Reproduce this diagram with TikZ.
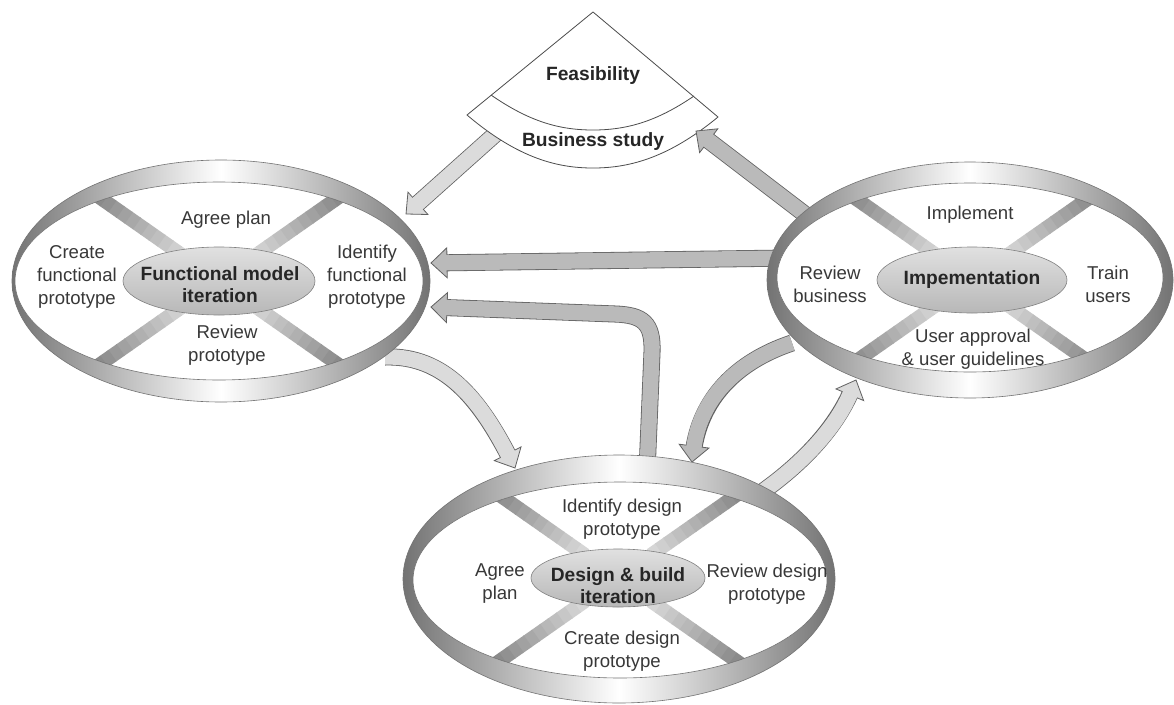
\documentclass[tikz,border=0pt]{standalone}
\usepackage{fontspec}
\setmainfont{Liberation Sans}
\usetikzlibrary{decorations.markings,calc}
\definecolor{edge}{gray}{0.38}
\definecolor{alight}{gray}{0.86}
\definecolor{amed}{gray}{0.73}
\definecolor{txt}{gray}{0.22}

\newcommand\blockarr[2]{%
  \draw[line width=17pt, draw=edge, shorten >=10pt] #2;
  \path[decoration={markings, mark=at position 1 with {\filldraw[fill=#1, draw=edge, line width=0.8pt, line join=miter] (0,0) -- (-16,15) -- (-16,-15) -- cycle;}}, postaction={decorate}] #2;
  \draw[line width=15.4pt, draw=#1, shorten >=14pt] #2;
}

\newcommand\dsdmring[9]{%
  \shade[left color=black!55, right color=black!55, middle color=white] #1 ellipse ({#2} and {#3});
  \fill[white] #4 ellipse ({#5} and {#6});
  \begin{scope}
    \clip #4 ellipse ({#5} and {#6});
    \foreach \a in {35,145,215,325}{
      \foreach \i in {0,...,13}{
        \pgfmathtruncatemacro\shadeval{16+3*\i}
        \draw[line width=14pt, draw=black!\shadeval] ($#7+(\a:{40+10*\i})$) -- ($#7+(\a:{51+10*\i})$);
      }}
  \end{scope}
  \draw[ringline] #1 ellipse ({#2} and {#3});
  \draw[ringline] #4 ellipse ({#5} and {#6});
  \shade[top color=black!12, bottom color=black!28, draw=black!50, line width=0.6pt] #7 ellipse ({#8} and {#9});
}

\tikzset{
  ringline/.style={draw=black!55, line width=0.6pt},
  lab/.style={font=\fontsize{18.6}{23}\selectfont, text=txt, align=center, inner sep=0pt},
  hublab/.style={font=\fontsize{19.2}{22}\selectfont\bfseries, text=black!85, align=center, inner sep=0pt},
}

\begin{document}
\begin{tikzpicture}[x=1pt,y=-1pt]
\useasboundingbox (0,0) rectangle (1174,704);
\fill[white] (0,0) rectangle (1174,704);

% arrow end points
\coordinate (a1s) at (500,130);  \coordinate (a1e) at (406,214);
\coordinate (a2s) at (815,222);  \coordinate (a2e) at (696,131);
\coordinate (a3s) at (790,258);  \coordinate (a3e) at (431,263);
\coordinate (a4s) at (647,472);  \coordinate (a4e) at (431,307);
\coordinate (a5s) at (385,357);  \coordinate (a5e) at (515,468);
\coordinate (a6s) at (792,343);  \coordinate (a6e) at (692,462);
\coordinate (a7s) at (762,492);  \coordinate (a7e) at (856,380);

% arrow from business study to functional model
\blockarr{alight}{(a1s) -- (a1e)}

% feasibility / business study sector
\coordinate (apex) at (593,12);
\coordinate (bl) at (467,115);
\coordinate (br) at (718,117);
\coordinate (dl) at (491,95);
\coordinate (dr) at (694,96);
\filldraw[fill=white, draw=black!70, line width=0.8pt, line join=round]
  (apex) -- (bl) .. controls (520,160) and (560,168) .. (593,168)
  .. controls (626,168) and (666,160) .. (br) -- cycle;
\draw[black!70, line width=0.8pt]
  (dl) .. controls (530,122) and (560,130) .. (593,130)
  .. controls (626,130) and (656,122) .. (dr);
\node[hublab] (feas) at (593,76) {Feasibility};
\node[hublab] (bus) at (593,142) {Business study};

% other arrows
\blockarr{amed}{(a2s) -- (a2e)}
\blockarr{amed}{(a3s) -- (a3e)}
\blockarr{amed}{(a4s) -- (652,352) .. controls (653,323) and (643,315) .. (615,314) -- (a4e)}
\blockarr{alight}{(a5s) .. controls (445,355) and (480,400) .. (a5e)}
\blockarr{amed}{(a6s) .. controls (735,362) and (700,400) .. (a6e)}
\blockarr{alight}{(a7s) .. controls (800,465) and (835,430) .. (a7e)}

% rings
\dsdmring{(221,281)}{209}{121}{(219,281)}{204}{99}{(219,281)}{96}{34}
\dsdmring{(970,280)}{203}{118}{(970,277.5)}{193}{94.5}{(972,280)}{95}{33}
\dsdmring{(619,579)}{216}{124}{(620,580)}{207}{98}{(618,578)}{87}{29}

% left ring labels
\node[lab] (fa) at (226,220) {Agree plan};
\node[lab] (fc) at (77,277) {Create\\functional\\prototype};
\node[hublab] (fh) at (220,285) {Functional model\\iteration};
\node[lab] (fi) at (367,277) {Identify\\functional\\prototype};
\node[lab] (fr) at (227,345) {Review\\prototype};

% right ring labels
\node[lab] (ii) at (970,215) {Implement};
\node[lab] (ir) at (830,284) {Review\\business};
\node[hublab] (ih) at (972,280) {Impementation};
\node[lab] (it) at (1108,284) {Train\\users};
\node[lab] (iu) at (973,349) {User approval\\\& user guidelines};

% bottom ring labels
\node[lab] (di) at (622,519) {Identify design\\prototype};
\node[lab] (da) at (500,584) {Agree\\plan};
\node[hublab] (dh) at (618,586) {Design \& build\\iteration};
\node[lab] (dr2) at (767,584) {Review design\\prototype};
\node[lab] (dc) at (622,651) {Create design\\prototype};
\end{tikzpicture}
\end{document}
